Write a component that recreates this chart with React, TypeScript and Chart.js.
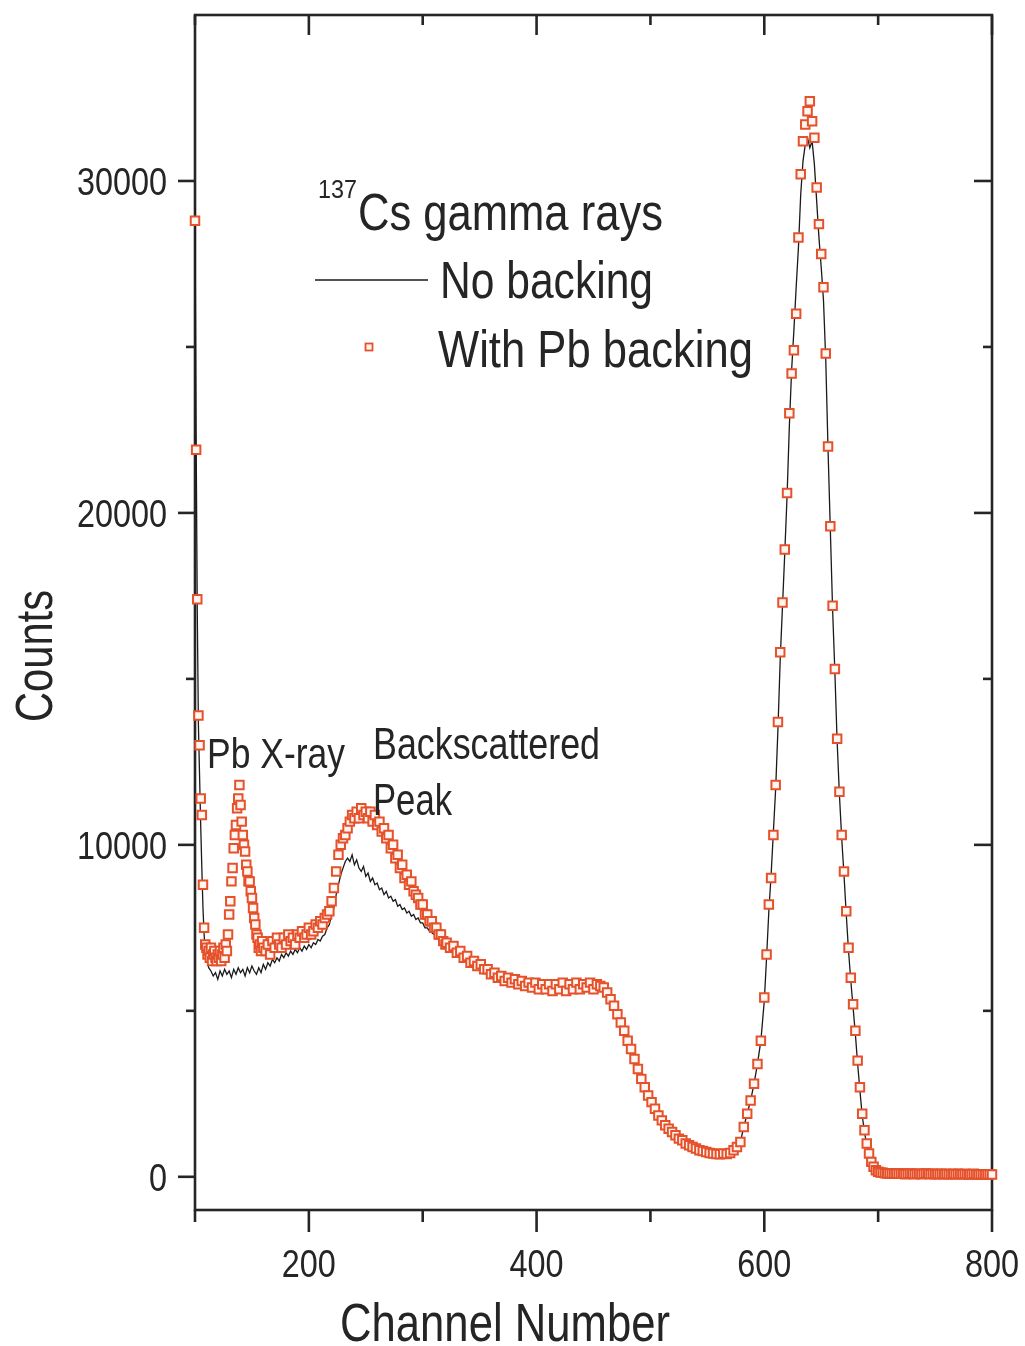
import React, { useEffect, useRef } from "react";
import { Chart, registerables } from "chart.js";

Chart.register(...registerables);

// ---------- axis ticks ----------
const xTickValues = [200, 400, 600, 800];
const xMinorTicks = [100, 300, 500, 700];
const yTickValues = [0, 10000, 20000, 30000];
const yMinorTicks = [5000, 15000, 25000];

// ---------- data: "No backing" (black line) ----------
// channels 100..109, step 1
const blackEdgeCounts = [29200, 22300, 17000, 13600, 12100, 10600, 9300, 8100, 7300, 6800];
// channels 110..320, step 2
const blackLowCounts = [
  6600, 6300, 6200, 6050, 6150, 5950, 6200, 6050, 6250, 6100,
  6200, 6000, 6250, 6100, 6300, 6150, 6250, 6050, 6300, 6150,
  6350, 6200, 6100, 6300, 6150, 6400, 6250, 6450, 6350, 6550,
  6450, 6600, 6500, 6700, 6600, 6750, 6650, 6800, 6700, 6850,
  6750, 6900, 6800, 6950, 6850, 7000, 6900, 7050, 7000, 7150,
  7100, 7250, 7300, 7500, 7600, 7900, 8100, 8500, 8800, 9100,
  9300, 9500, 9600, 9500, 9700, 9400, 9550, 9300, 9200, 9350,
  9050, 9150, 8900, 9000, 8800, 8850, 8650, 8700, 8500, 8600,
  8400, 8450, 8300, 8350, 8150, 8200, 8050, 8100, 7950, 8000,
  7850, 7900, 7750, 7800, 7650, 7650, 7500, 7500, 7400, 7350,
  7300, 7250, 7200, 7150, 7050, 7000,
];
// channels 600..700, step 2
const blackPeakCounts = [
  5300, 6600, 8000, 9100, 10400, 11700, 13500, 15600, 17200, 18800,
  20500, 22600, 24300, 25500, 26800, 28000, 29600, 30600, 31100, 31300,
  31000, 31200, 30500, 29400, 28300, 27400, 26400, 24600, 21900, 19500,
  17100, 15200, 13100, 11500, 10200, 9100, 7900, 6800, 5900, 5100,
  4300, 3400, 2600, 1850, 1350, 950, 650, 420, 280, 190,
  140,
];

// ---------- data: "With Pb backing" (red squares) ----------
// channels 100..109, step 1
const redEdgeCounts = [28800, 21900, 17400, 13900, 13000, 11400, 10900, 8800, 7500, 7000];
// channels 110..160, step 1 (Pb X-ray peak)
const redXrayCounts = [
  6900, 6700, 6800, 6600, 6900, 6500, 6700, 6800, 6600, 6500,
  6700, 6600, 6800, 6500, 6700, 6900, 6600, 7000, 6800, 7300,
  7900, 8300, 8900, 9300, 9900, 10300, 10600, 11100, 11400, 11800,
  11200, 10700, 10300, 10000, 9800, 9400, 9200, 8900, 8900, 8600,
  8400, 8100, 7800, 7600, 7300, 7200, 6900, 7000, 6800, 7100,
  6900,
];
// channels 162..240, step 2
const redRiseCounts = [
  6800, 7000, 6700, 7100, 6900, 7200, 7000, 6900, 7200, 7000,
  7300, 7100, 7200, 7000, 7300, 7200, 7400, 7200, 7300, 7500,
  7300, 7400, 7600, 7500, 7700, 7600, 7800, 7900, 8000, 8300,
  8700, 9200, 9700, 10000, 10200, 10300, 10500, 10700, 10900, 10800,
];
// channels 242..320, step 2 (backscattered peak)
const redBackCounts = [
  11000, 10800, 11100, 10900, 11000, 10800, 11000, 10700, 10900, 10600,
  10700, 10400, 10500, 10200, 10300, 9900, 10000, 9600, 9700, 9300,
  9400, 9000, 9100, 8800, 8900, 8600, 8500, 8400, 8200, 8200,
  7900, 7900, 7700, 7700, 7500, 7500, 7300, 7300, 7100, 7000,
];
// channels 600..700, step 2 (662 keV photopeak)
const redPeakCounts = [
  5400, 6700, 8200, 9000, 10300, 11800, 13700, 15800, 17300, 18900,
  20600, 23000, 24200, 24900, 26000, 28300, 30200, 31200, 31700, 32100,
  32400, 31800, 31300, 29800, 28700, 27800, 26800, 24800, 22000, 19600,
  17200, 15300, 13200, 11600, 10300, 9200, 8000, 6900, 6000, 5200,
  4400, 3500, 2700, 1900, 1400, 1000, 700, 450, 300, 200,
  150,
];

// ---------- data shared by both series ----------
// channels 321..597, step 3
const sharedMidCounts = [
  7050, 6900, 6950, 6750, 6800, 6600, 6650, 6450, 6500, 6350,
  6400, 6250, 6250, 6100, 6150, 6000, 6050, 5900, 6000, 5850,
  5950, 5800, 5900, 5750, 5850, 5700, 5850, 5650, 5800, 5650,
  5800, 5600, 5800, 5650, 5850, 5600, 5800, 5650, 5850, 5650,
  5800, 5700, 5850, 5650, 5800, 5750, 5700, 5550, 5350, 5150,
  4900, 4650, 4400, 4100, 3850, 3550, 3250, 2950, 2700, 2450,
  2250, 2050, 1850, 1700, 1550, 1450, 1350, 1250, 1150, 1100,
  1000, 950, 900, 850, 800, 780, 750, 720, 700, 690,
  680, 700, 690, 720, 800, 900, 1050, 1500, 1900, 2300,
  2800, 3400, 4100,
];
// channels 702..800, step 2
const sharedTailCounts = [
  130, 120, 110, 100, 110, 100, 90, 100, 90, 100,
  90, 80, 90, 100, 90, 80, 90, 90, 80, 90,
  100, 90, 80, 90, 80, 90, 80, 90, 80, 90,
  80, 80, 90, 80, 90, 80, 80, 90, 80, 70,
  80, 90, 80, 70, 80, 80, 70, 80, 80, 70,
];

const seriesNames = ["No backing", "With Pb backing"];
const legendTitle = "Cs gamma rays";
const legendIsotope = "137";
const xTitle = "Channel Number";
const yTitle = "Counts";
const annotations = ["Pb X-ray", "Backscattered", "Peak"];

function seg(start: number, step: number, counts: number[]) {
  return counts.map((c, i) => ({ x: start + i * step, y: c }));
}

const noBackingData = [
  ...seg(100, 1, blackEdgeCounts),
  ...seg(110, 2, blackLowCounts),
  ...seg(321, 3, sharedMidCounts),
  ...seg(600, 2, blackPeakCounts),
  ...seg(702, 2, sharedTailCounts),
];
const pbBackingData = [
  ...seg(100, 1, redEdgeCounts),
  ...seg(110, 1, redXrayCounts),
  ...seg(162, 2, redRiseCounts),
  ...seg(242, 2, redBackCounts),
  ...seg(321, 3, sharedMidCounts),
  ...seg(600, 2, redPeakCounts),
  ...seg(702, 2, sharedTailCounts),
];

const FONT = '"Liberation Sans", Arial, sans-serif';
const INK = "#252525";
const RED = "#e5512b";
const MARK_FILL = "#fff6f1";
const NARROW = 0.83;

const framePlugin = {
  id: "frameAndText",
  beforeDatasetsDraw(chart: any) {
    const { ctx, chartArea: a, scales } = chart;
    const xs = scales.x;
    const ys = scales.y;
    ctx.save();
    ctx.strokeStyle = INK;
    ctx.lineWidth = 2.6;
    ctx.strokeRect(a.left, a.top, a.right - a.left, a.bottom - a.top);
    const line = (x1: number, y1: number, x2: number, y2: number) => {
      ctx.beginPath();
      ctx.moveTo(x1, y1);
      ctx.lineTo(x2, y2);
      ctx.stroke();
    };
    xTickValues.forEach((v) => {
      const px = xs.getPixelForValue(v);
      line(px, a.bottom, px, a.bottom + 22);
      line(px, a.top, px, a.top + 20);
    });
    xMinorTicks.forEach((v) => {
      const px = xs.getPixelForValue(v);
      line(px, a.bottom, px, a.bottom + 12);
      line(px, a.top, px, a.top + 10);
    });
    yTickValues.forEach((v) => {
      const py = ys.getPixelForValue(v);
      line(a.left - 17, py, a.left, py);
      line(a.right - 18, py, a.right, py);
    });
    yMinorTicks.forEach((v) => {
      const py = ys.getPixelForValue(v);
      line(a.left - 9, py, a.left, py);
      line(a.right - 9, py, a.right, py);
    });
    ctx.restore();
  },
  afterDraw(chart: any) {
    const { ctx, chartArea: a, scales } = chart;
    const xs = scales.x;
    const ys = scales.y;
    ctx.save();
    ctx.fillStyle = INK;
    // text squeezed horizontally (narrow face); optional target width
    const txt = (
      s: string,
      x: number,
      y: number,
      size: number,
      opts: { w?: number; align?: CanvasTextAlign; base?: CanvasTextBaseline; rot?: number } = {}
    ) => {
      ctx.save();
      ctx.font = `${size}px ${FONT}`;
      const natural = ctx.measureText(s).width;
      const sx = opts.w ? opts.w / natural : NARROW;
      ctx.translate(x, y);
      if (opts.rot) ctx.rotate(opts.rot);
      ctx.scale(sx, 1);
      ctx.textAlign = opts.align || "left";
      ctx.textBaseline = opts.base || "alphabetic";
      ctx.fillText(s, 0, 0);
      ctx.restore();
    };
    // tick labels
    yTickValues.forEach((v) => {
      txt(String(v), a.left - 28, ys.getPixelForValue(v) + 14, 39, { align: "right" });
    });
    xTickValues.forEach((v) => {
      txt(String(v), xs.getPixelForValue(v), 1277, 39, { align: "center" });
    });
    // legend
    txt(legendIsotope, 318, 198, 25, { w: 39 });
    txt(legendTitle, 358, 230, 52, { w: 305 });
    ctx.strokeStyle = "#1a1a1a";
    ctx.lineWidth = 1.4;
    ctx.beginPath();
    ctx.moveTo(315, 280);
    ctx.lineTo(428, 280);
    ctx.stroke();
    txt(seriesNames[0], 440, 298, 52, { w: 213 });
    ctx.strokeStyle = RED;
    ctx.fillStyle = MARK_FILL;
    ctx.lineWidth = 1.8;
    ctx.fillRect(365.5, 343.5, 7, 7);
    ctx.strokeRect(365.5, 343.5, 7, 7);
    ctx.fillStyle = INK;
    txt(seriesNames[1], 438, 367, 52, { w: 315 });
    // annotations
    txt(annotations[0], 207, 768, 42, { w: 138 });
    txt(annotations[1], 373, 759, 44, { w: 227 });
    txt(annotations[2], 373, 815, 44, { w: 79 });
    // axis titles
    txt(xTitle, 340, 1341, 53, { w: 330 });
    txt(yTitle, 52, 722, 52, { w: 132, rot: -Math.PI / 2 });
    ctx.restore();
  },
};

export default function App() {
  const ref = useRef<HTMLCanvasElement | null>(null);
  useEffect(() => {
    if (!ref.current) return;
    const chart = new Chart(ref.current, {
      type: "line",
      data: {
        datasets: [
          {
            label: seriesNames[1],
            data: pbBackingData,
            showLine: false,
            pointStyle: "rect",
            pointRadius: 6,
            pointBorderWidth: 2,
            pointBorderColor: RED,
            pointBackgroundColor: MARK_FILL,
            borderColor: RED,
            backgroundColor: MARK_FILL,
            order: 0,
            clip: false,
          },
          {
            label: seriesNames[0],
            data: noBackingData,
            borderColor: "#1a1a1a",
            borderWidth: 1.3,
            pointRadius: 0,
            tension: 0,
            fill: false,
            order: 1,
          },
        ],
      },
      options: {
        animation: false,
        responsive: false,
        devicePixelRatio: 1,
        parsing: false as any,
        normalized: true,
        layout: { padding: { top: 15, right: 33, left: 0, bottom: 0 } },
        plugins: { legend: { display: false }, tooltip: { enabled: false } },
        scales: {
          x: {
            type: "linear",
            min: 100,
            max: 800,
            grid: { display: false, drawTicks: false },
            border: { display: false },
            afterBuildTicks: (s: any) => {
              s.ticks = xTickValues.map((v) => ({ value: v }));
            },
            afterFit: (s: any) => {
              s.height = 136;
              s.paddingLeft = 0;
              s.paddingRight = 0;
              s.paddingTop = 0;
              s.paddingBottom = 0;
            },
            ticks: { display: false, autoSkip: false },
          },
          y: {
            type: "linear",
            min: -1000,
            max: 35000,
            grid: { display: false, drawTicks: false },
            border: { display: false },
            afterBuildTicks: (s: any) => {
              s.ticks = yTickValues.map((v) => ({ value: v }));
            },
            afterFit: (s: any) => {
              s.width = 195;
              s.paddingLeft = 0;
              s.paddingRight = 0;
              s.paddingTop = 0;
              s.paddingBottom = 0;
            },
            ticks: { display: false, autoSkip: false },
          },
        },
      },
      plugins: [framePlugin],
    });
    return () => chart.destroy();
  }, []);
  return (
    <div style={{ position: "fixed", left: 0, top: 0, width: 1025, height: 1346, background: "#fff" }}>
      <canvas ref={ref} width={1025} height={1346} style={{ display: "block" }} />
    </div>
  );
}
